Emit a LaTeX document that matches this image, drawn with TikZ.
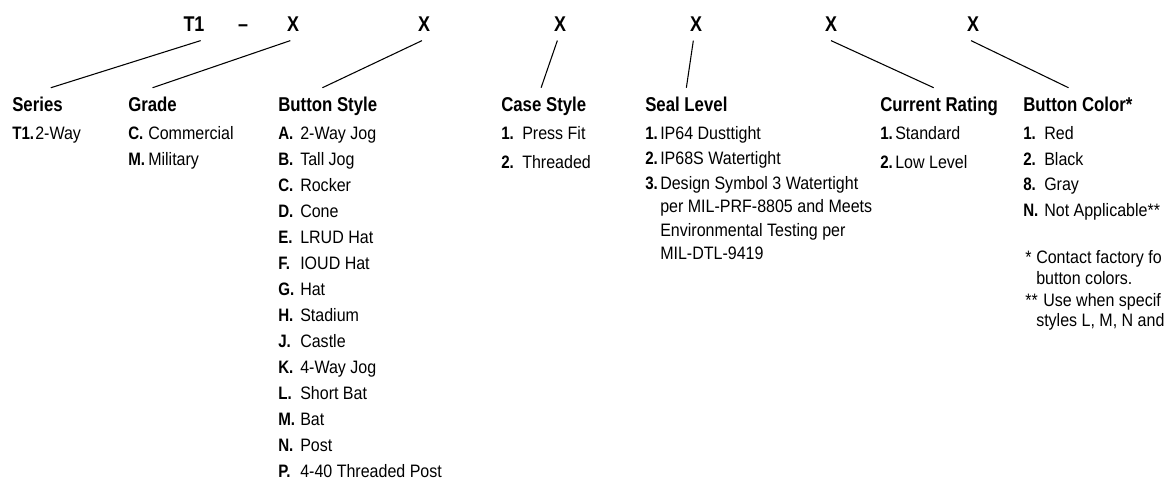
\documentclass[tikz,border=0pt]{standalone}
\usepackage{fontspec}
\setmainfont{Liberation Sans}[FakeStretch=0.89,BoldFeatures={FakeStretch=0.84}]
\usetikzlibrary{positioning}

\tikzset{
  code/.style={anchor=base, font=\fontsize{16}{18}\selectfont\bfseries, inner xsep=0pt, inner ysep=7pt, text height=11pt, text depth=0pt},
  head/.style={anchor=base west, font=\fontsize{15}{17}\selectfont\bfseries, inner xsep=0pt, inner ysep=6.5pt, text height=10.75pt, text depth=0pt},
  key/.style={anchor=base west, font=\fontsize{13.5}{16}\selectfont\bfseries, inner sep=0pt},
  item/.style={anchor=base west, font=\fontsize{13.5}{16}\selectfont, inner sep=0pt},
  lead/.style={line width=0.8pt},
}

\begin{document}
\begin{tikzpicture}[x=0.75pt, y=-0.75pt]
  \useasboundingbox (0,0) rectangle (1168,480);

  % part number
  \node[code] (t1) at (194,31) {T1};
  \node[code] (dash) at (243,31) {--};
  \foreach \x [count=\i] in {293,424,560,696,831,973}
    \node[code] (x\i) at (\x,31) {X};

  % headings
  \node[head] (series) at (12,111) {Series};
  \node[head] (grade) at (128,111) {Grade};
  \node[head] (bstyle) at (278,111) {Button Style};
  \node[head] (cstyle) at (501,111) {Case Style};
  \node[head] (seal) at (645,111) {Seal Level};
  \node[head] (rating) at (880,111) {Current Rating};
  \node[head] (bcolor) at (1023,111) {Button Color*};

  % leaders
  \draw[lead] ([xshift=5pt]t1.south) -- ([xshift=10pt]series.north);
  \draw[lead] ([xshift=-2pt]x1.south) -- (grade.north);
  \draw[lead] ([xshift=-1.5pt]x2.south) -- ([xshift=-4pt]bstyle.north);
  \draw[lead] ([xshift=-2pt]x3.south) -- ([xshift=-2pt]cstyle.north);
  \draw[lead] ([xshift=-2pt]x4.south) -- (seal.north);
  \draw[lead] (x5.south) -- ([xshift=-4pt]rating.north);
  \draw[lead] ([xshift=-1.5pt]x6.south) -- ([xshift=-7pt]bcolor.north);

  % series
  \node[key] (sk) at (12,139.5) {T1.};
  \node[item] (st) at (35,139.5) {2-Way};

  % grade
  \foreach \k/\txt [count=\i from 0] in {C/Commercial, M/Military} {
    \node[key] (gk\i) at (128,139.5+26*\i) {\k.};
    \node[item] (gt\i) at (148,139.5+26*\i) {\txt};
  }

  % button style
  \foreach \k/\txt [count=\i from 0] in {A/2-Way Jog, B/Tall Jog, C/Rocker, D/Cone,
      E/LRUD Hat, F/IOUD Hat, G/Hat, H/Stadium, J/Castle, K/4-Way Jog,
      L/Short Bat, M/Bat, N/Post, P/4-40 Threaded Post} {
    \node[key] (bk\i) at (278,139.5+26*\i) {\k.};
    \node[item] (bt\i) at (300,139.5+26*\i) {\txt};
  }

  % case style
  \foreach \k/\txt [count=\i from 0] in {1/Press Fit, 2/Threaded} {
    \node[key] (ck\i) at (501,139.5+29*\i) {\k.};
    \node[item] (ct\i) at (522,139.5+29*\i) {\txt};
  }

  % seal level
  \foreach \k/\txt [count=\i from 0] in {1/IP64 Dusttight, 2/IP68S Watertight,
      3/Design Symbol 3 Watertight} {
    \node[key] (lk\i) at (645,139.5+25*\i) {\k.};
    \node[item] (lt\i) at (660,139.5+25*\i) {\txt};
  }
  \foreach \txt [count=\i] in {per MIL-PRF-8805 and Meets, Environmental Testing per, MIL-DTL-9419}
    \node[item] (lm\i) at (660,189.5+23.3*\i) {\txt};

  % current rating
  \foreach \k/\txt [count=\i from 0] in {1/Standard, 2/Low Level} {
    \node[key] (rk\i) at (880,139.5+29*\i) {\k.};
    \node[item] (rt\i) at (895,139.5+29*\i) {\txt};
  }

  % button color
  \foreach \k/\txt [count=\i from 0] in {1/Red, 2/Black, 8/Gray, N/Not Applicable**} {
    \node[key] (ok\i) at (1023,139.5+25.7*\i) {\k.};
    \node[item] (ot\i) at (1044,139.5+25.7*\i) {\txt};
  }

  % notes
  \node[item] (n1) at (1025,263.5) {*};
  \node[item] (n1a) at (1036,263.5) {Contact factory fo};
  \node[item] (n1b) at (1036,284) {button colors.};
  \node[item] (n2) at (1025,306) {**};
  \node[item] (n2a) at (1043,306) {Use when specif};
  \node[item] (n2b) at (1036,326.5) {styles L, M, N and};
\end{tikzpicture}
\end{document}
